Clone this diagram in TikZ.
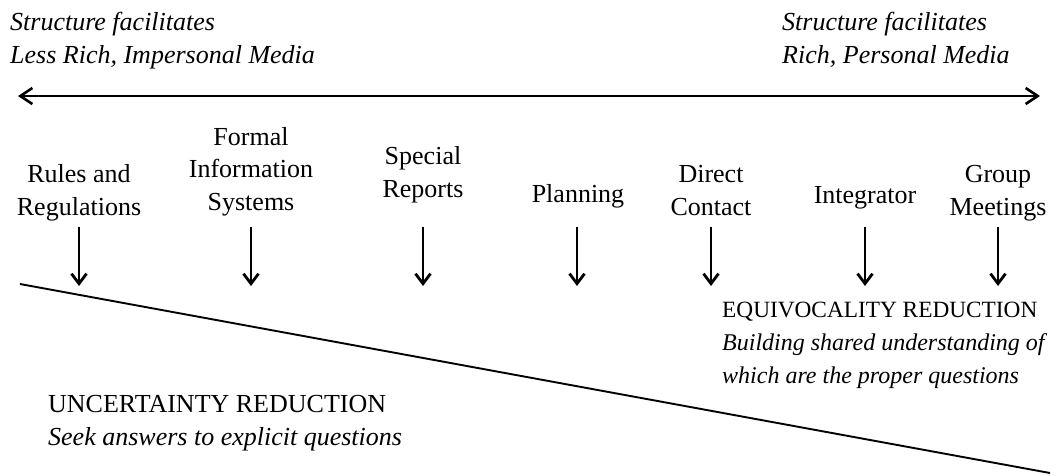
\documentclass[tikz,border=0pt]{standalone}
\usepackage{fontspec}
\setmainfont{Liberation Serif}
\usetikzlibrary{arrows.meta}
\begin{document}
\begin{tikzpicture}[x=1pt,y=-1pt,
  lbl/.style={font=\fontsize{26}{32.5}\selectfont, align=center, inner sep=0pt, anchor=base},
  txt/.style={font=\fontsize{26}{32.5}\selectfont, align=left, inner sep=0pt, anchor=base west},
  smalltxt/.style={txt, font=\fontsize{23.3}{33}\selectfont},
  down/.style={line width=2.8pt, -{Straight Barb[length=10pt,width=15pt]}},
  span/.style={line width=2.6pt, {Straight Barb[length=12pt,width=16pt]}-{Straight Barb[length=12pt,width=16pt]}},
  slope/.style={line width=1.9pt}]
\useasboundingbox (0,0) rectangle (1063,475);

% top captions (anchored on the baseline of their last line)
\node[txt] (lefttop) at (10,63) {\itshape Structure facilitates\\\itshape Less Rich, Impersonal Media};
\node[txt] (righttop) at (782,63) {\itshape Structure facilitates\\\itshape Rich, Personal Media};

% richness continuum
\coordinate (spanL) at (18,96);
\coordinate (spanR) at (1040,96);
\draw[span] (spanL) -- (spanR);

% coordination mechanisms
\node[lbl] (rules)   at (79,215)  {Rules and\\Regulations};
\node[lbl] (formal)  at (251,210) {Formal\\Information\\Systems};
\node[lbl] (special) at (423,197) {Special\\Reports};
\node[lbl] (plan)    at (578,202) {Planning};
\node[lbl] (direct)  at (711,215) {Direct\\Contact};
\node[lbl] (integ)   at (865,203) {Integrator};
\node[lbl] (group)   at (998,215) {Group\\Meetings};

\foreach \n/\x in {rules/79, formal/251, special/423, plan/577, direct/711, integ/865, group/998}{
  \coordinate (\n-top) at (\x,227);
  \coordinate (\n-tip) at (\x,286);
  \draw[down] (\n-top) -- (\n-tip);
}

% dividing line
\coordinate (divL) at (20,284);
\coordinate (divR) at (1050,473);
\draw[slope] (divL) -- (divR);

% regions
\node[smalltxt] (equiv) at (722,383) {EQUIVOCALITY REDUCTION\\\fontsize{24}{33}\selectfont\itshape Building shared understanding of\\\fontsize{24}{33}\selectfont\itshape which are the proper questions};
\node[txt] (uncert) at (48,445) {UNCERTAINTY REDUCTION\\\itshape Seek answers to explicit questions};
\end{tikzpicture}
\end{document}
